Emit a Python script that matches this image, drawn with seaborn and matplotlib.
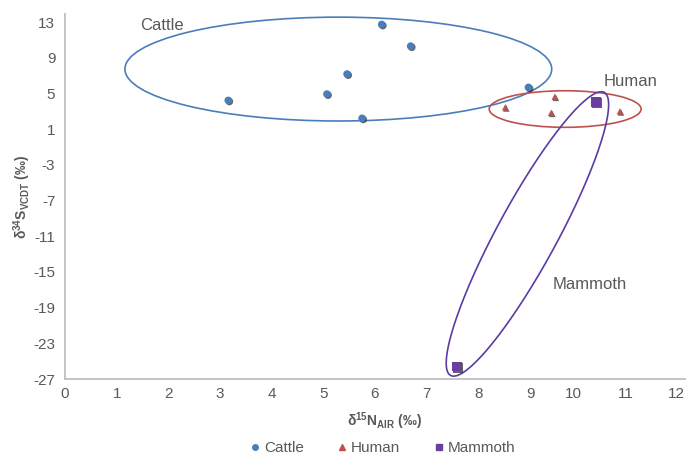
"""
Scatter of d15N vs d34S for cattle, human and mammoth bone collagen.
"""

import matplotlib

matplotlib.use("Agg")
import matplotlib.patheffects as pe
import matplotlib.pyplot as plt
import numpy as np
import pandas as pd
import seaborn as sns
from matplotlib.lines import Line2D
from matplotlib.patches import Ellipse

# data
cattle_n15 = [3.16, 5.07, 5.46, 5.75, 6.13, 6.69, 8.97]
cattle_s34 = [4.23, 4.94, 7.18, 2.22, 12.74, 10.31, 5.69]
human_n15 = [8.52, 9.48, 9.41, 10.74]
human_s34 = [3.45, 4.64, 2.84, 3.00]
mammoth_n15 = [10.27, 7.58]
mammoth_s34 = [4.04, -25.6]

groups = ["Cattle", "Human", "Mammoth"]
x_ticks = list(range(0, 13))
y_ticks = list(range(-27, 14, 4))

colors = {"Cattle": "#4A7EBB", "Human": "#C0504D", "Mammoth": "#6A3FA0"}
ring_colors = {"Cattle": "#4A7EBB", "Human": "#C0504D", "Mammoth": "#5B3BA3"}
markers = {"Cattle": "o", "Human": "^", "Mammoth": "s"}
sizes = {"Cattle": 30, "Human": 22, "Mammoth": 50}
text_grey = "#595959"
spine_grey = "#BFBFBF"

df = pd.DataFrame(
    {
        "n15": cattle_n15 + human_n15 + mammoth_n15,
        "s34": cattle_s34 + human_s34 + mammoth_s34,
        "group": ["Cattle"] * len(cattle_n15)
        + ["Human"] * len(human_n15)
        + ["Mammoth"] * len(mammoth_n15),
    }
)

sns.set_theme(style="white")
plt.rcParams["font.family"] = ["Liberation Sans", "DejaVu Sans"]
plt.rcParams["axes.unicode_minus"] = False
plt.rcParams["mathtext.fontset"] = "custom"
plt.rcParams["mathtext.rm"] = "Liberation Sans"
plt.rcParams["mathtext.bf"] = "Liberation Sans:bold"

fig = plt.figure(figsize=(6.87, 4.55), dpi=100)
ax = fig.add_axes([0.0946, 0.167, 0.9025, 0.802])

ax.set_xlim(0, 12)
ax.set_ylim(-27, 13.9)

# pixels per data unit, used to draw the tilted mammoth ring round
px_x = 0.9025 * 687 / 12
px_y = 0.802 * 455 / 40.9

# group rings (axis aligned ones in data units)
ax.add_patch(Ellipse((5.29, 7.74), 8.26, 11.64, fill=False,
                     color=ring_colors["Cattle"], lw=1.2))
ax.add_patch(Ellipse((9.68, 3.26), 2.94, 4.10, fill=False,
                     color=ring_colors["Human"], lw=1.2))

# mammoth ring is tilted in screen space
t = np.linspace(0, 2 * np.pi, 300)
theta = np.deg2rad(61.5)
semi_a, semi_b = 161.0, 30.0
dx = semi_a * np.cos(t) * np.cos(theta) - semi_b * np.sin(t) * np.sin(theta)
dy = semi_a * np.cos(t) * np.sin(theta) + semi_b * np.sin(t) * np.cos(theta)
ax.plot(8.95 + dx / px_x, -10.74 + dy / px_y, color=ring_colors["Mammoth"], lw=1.2)

sns.scatterplot(
    data=df,
    x="n15",
    y="s34",
    hue="group",
    style="group",
    size="group",
    palette=colors,
    markers=markers,
    sizes=sizes,
    linewidth=0,
    legend=False,
    ax=ax,
    zorder=3,
)
for coll in ax.collections:
    coll.set_path_effects([
        pe.SimplePatchShadow(offset=(0.8, -0.8), shadow_rgbFace="#222222", alpha=0.7),
        pe.Normal(),
    ])

ax.text(1.45, 12.66, "Cattle", color=text_grey, fontsize=12, va="center")
ax.text(10.43, 6.31, "Human", color=text_grey, fontsize=12, va="center")
ax.text(9.43, -16.37, "Mammoth", color=text_grey, fontsize=12, va="center")

ax.set_xticks(x_ticks)
ax.set_yticks(y_ticks)
ax.tick_params(axis="both", direction="in", length=4, width=1, color=spine_grey,
               labelsize=11, labelcolor=text_grey)
ax.tick_params(axis="y", pad=7)
ax.tick_params(axis="x", pad=6)
# two-digit x labels sit to the left of their tick, as in the original
for tick_value, label in zip(x_ticks, ax.get_xticklabels()):
    if tick_value >= 10:
        label.set_horizontalalignment("right")

for side in ["top", "right"]:
    ax.spines[side].set_visible(False)
for side in ["left", "bottom"]:
    ax.spines[side].set_color(spine_grey)
    ax.spines[side].set_linewidth(1.3)

ax.set_xlabel(r"$\mathbf{\delta^{15}N_{AIR}}$ (‰)", fontsize=10, fontweight="bold",
              color=text_grey)
ax.set_ylabel(r"$\mathbf{\delta^{34}S_{VCDT}}$ (‰)", fontsize=10, fontweight="bold",
              color=text_grey)
ax.xaxis.set_label_coords(0.515, -0.085)
ax.yaxis.set_label_coords(-0.052, 0.5)

handles = [
    Line2D([], [], marker=markers[g], linestyle="", color=colors[g],
           markersize={"Cattle": 4, "Human": 4, "Mammoth": 5}[g])
    for g in groups
]
fig.legend(handles, groups, loc="lower center", ncol=3, frameon=False,
           bbox_to_anchor=(0.555, -0.03), fontsize=11, labelcolor=text_grey,
           handletextpad=0.1, columnspacing=2.0, handlelength=1)

fig.savefig("out.png", dpi=100)
